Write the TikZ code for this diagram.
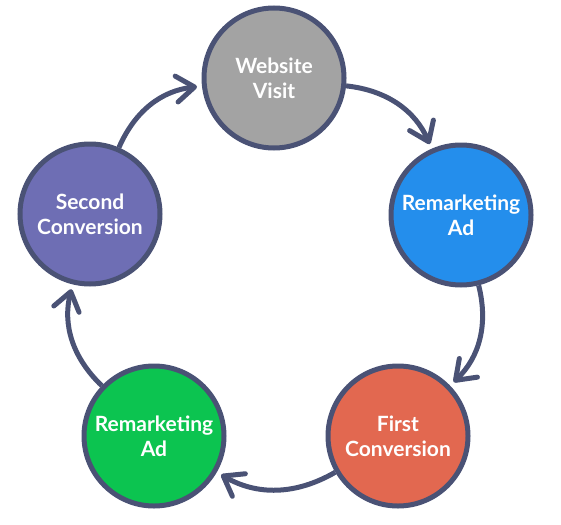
\documentclass[tikz,border=0pt]{standalone}
\usepackage{fontspec}
\setmainfont{Lato}
\usetikzlibrary{arrows.meta}
\definecolor{ring}{RGB}{74,82,117}
\definecolor{visitgray}{RGB}{163,163,163}
\definecolor{adblue}{RGB}{36,142,236}
\definecolor{convorange}{RGB}{226,104,80}
\definecolor{adgreen}{RGB}{12,196,80}
\definecolor{convpurple}{RGB}{110,110,180}
\tikzset{stage/.style={circle, draw=ring, line width=5pt, minimum size=140pt, inner sep=0pt,
    text=white, align=center, font=\bfseries\fontsize{21}{25}\selectfont}}
\tikzset{flow/.style={draw=ring, line width=5pt, shorten >=5pt,
    -{Straight Barb[round, length=18pt, width=26pt]}}}

\begin{document}
\begin{tikzpicture}[x=1pt,y=1pt]
	\useasboundingbox (0,0) rectangle (561,-524);
	% stages
	\node[stage, fill=visitgray]  (visit)   at (274,-78)  {Website\\Visit};
	\node[stage, fill=adblue]     (adone)   at (461,-215) {Remarketing\\Ad};
	\node[stage, fill=convorange] (convone) at (398,-436) {First\\Conversion};
	\node[stage, fill=adgreen]    (adtwo)   at (154,-436) {Remarketing\\Ad};
	\node[stage, fill=convpurple] (convtwo) at (90,-214)  {Second\\Conversion};

	% cycle arrows
	\draw[flow] (visit)   to[bend left=30] (adone);
	\draw[flow] (adone)   to[bend left=30] (convone);
	\draw[flow] (convone) to[bend left=30] (adtwo);
	\draw[flow] (adtwo)   to[bend left=30] (convtwo);
	\draw[flow] (convtwo) to[bend left=30] (visit);
\end{tikzpicture}
\end{document}
